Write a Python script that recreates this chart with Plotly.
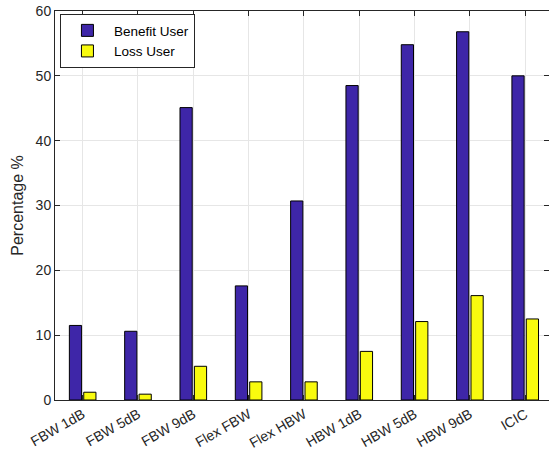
import plotly.graph_objects as go

categories = ["FBW 1dB", "FBW 5dB", "FBW 9dB", "Flex FBW", "Flex HBW",
              "HBW 1dB", "HBW 5dB", "HBW 9dB", "ICIC"]
benefit_user = [11.5, 10.6, 45.1, 17.6, 30.7, 48.5, 54.8, 56.8, 50.0]
loss_user = [1.2, 0.9, 5.2, 2.8, 2.8, 7.5, 12.1, 16.1, 12.5]
y_ticks = [0, 10, 20, 30, 40, 50, 60]

xpos = list(range(1, len(categories) + 1))

fig = go.Figure()
fig.add_trace(go.Bar(x=xpos, y=benefit_user, name="Benefit User",
                     marker=dict(color="#3E26A8", line=dict(color="#000000", width=1))))
fig.add_trace(go.Bar(x=xpos, y=loss_user, name="Loss User",
                     marker=dict(color="#F9FB0E", line=dict(color="#000000", width=1))))

axis_font = dict(family="Liberation Sans, Arial", size=14, color="#262626")
fig.update_layout(
    width=549, height=455,
    margin=dict(l=55, r=0, t=11, b=55, autoexpand=False),
    paper_bgcolor="white", plot_bgcolor="white",
    barmode="group", bargap=0.48, bargroupgap=0.15,
    font=axis_font,
    showlegend=True,
    legend=dict(x=0.01, y=0.992, xanchor="left", yanchor="top",
                bgcolor="white", bordercolor="#262626", borderwidth=1,
                font=dict(family="Liberation Sans, Arial", size=13.5, color="#000000"),
                itemwidth=43, tracegroupgap=0),
    xaxis=dict(range=[0.5, 9.43], tickmode="array", tickvals=xpos, ticktext=categories,
               tickangle=-30, automargin=False, showgrid=True, gridcolor="#E6E6E6", gridwidth=1,
               showline=True, linecolor="#262626", linewidth=1, mirror="ticks",
               ticks="inside", ticklen=5, tickcolor="#262626", zeroline=False,
               tickfont=axis_font),
    yaxis=dict(range=[0, 60], tickmode="array", tickvals=y_ticks, automargin=False,
               showgrid=True, gridcolor="#E6E6E6", gridwidth=1,
               showline=True, linecolor="#262626", linewidth=1, mirror="ticks",
               ticks="inside", ticklen=5, tickcolor="#262626", zeroline=False,
               tickfont=axis_font,
               title=dict(text="Percentage %", font=dict(family="Liberation Sans, Arial", size=16, color="#262626"),
                          standoff=8)),
)

fig.write_html("out.html", config={"displayModeBar": False},
               post_script="document.body.style.margin='0';")
